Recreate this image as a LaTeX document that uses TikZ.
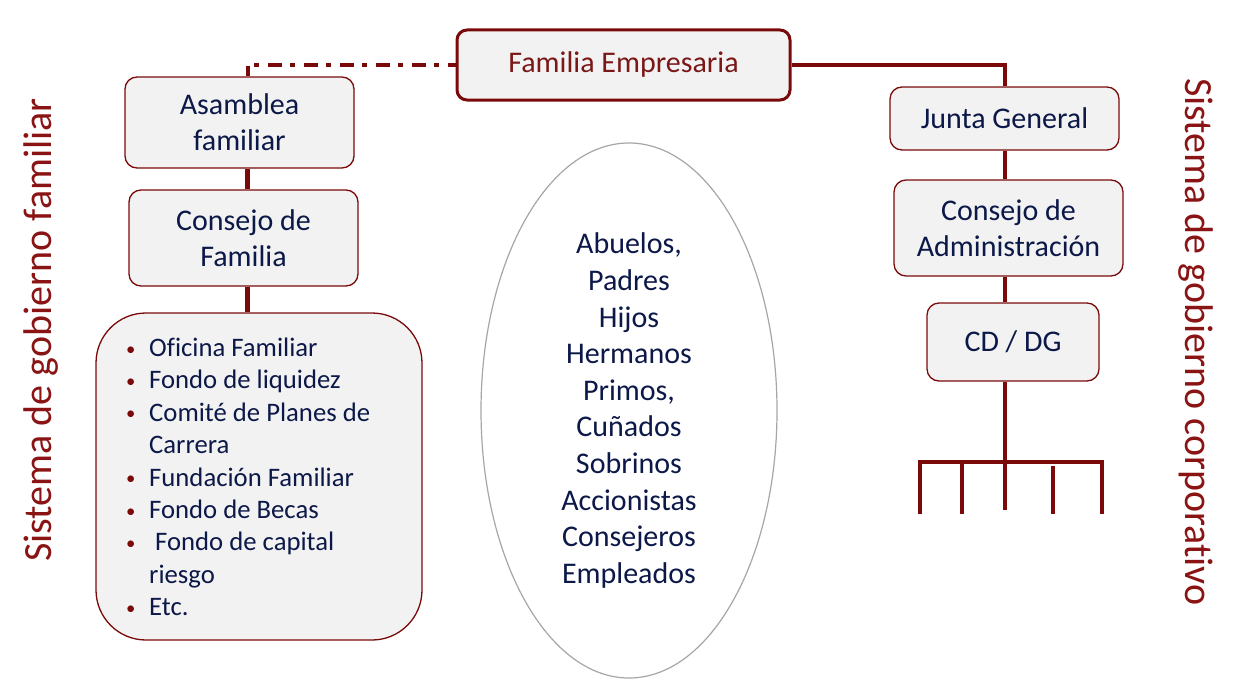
\documentclass[tikz,border=0pt]{standalone}
\usepackage{fontspec}
\setmainfont{Carlito}[Ligatures=NoCommon]
\usetikzlibrary{shapes.geometric,calc}
\definecolor{dred}{HTML}{7A0A0A}
\definecolor{tred}{HTML}{7A1818}
\definecolor{sred}{HTML}{8A1414}
\definecolor{navy}{HTML}{0C1848}
\definecolor{boxfill}{HTML}{F2F2F2}
\definecolor{ellgray}{HTML}{A6A6A6}
\newcommand{\blt}{\makebox[25pt][l]{\hspace*{2pt}\textcolor{dred}{\raisebox{1.5pt}{\scalebox{0.7}{•}}}}}
\begin{document}
\begin{tikzpicture}[x=1pt,y=-1pt,
  box/.style={draw=dred, line width=1.3pt, fill=boxfill, rounded corners=12pt,
    align=center, text=navy, font=\fontsize{30}{36}\selectfont, inner sep=0pt},
  conn/.style={draw=dred, line width=4.5pt},
  brk/.style={draw=dred, line width=4pt},
  dashdotline/.style={draw=dred, line width=4pt, dash pattern=on 14pt off 8pt on 5pt off 9pt, dash phase=4pt},
  sidetext/.style={text=sred, font=\fontsize{40}{48}\selectfont, inner sep=0pt}
]
\useasboundingbox (0,0) rectangle (1236,693);

% nodes
\node[box, minimum width=333pt, minimum height=70pt, line width=3pt, rounded corners=10pt, text=tred] (fe) at (623.5,65) {Familia Empresaria};
\node[box, minimum width=229pt, minimum height=91pt] (af) at (239.5,122.5) {Asamblea\\familiar};
\node[box, minimum width=229pt, minimum height=96pt] (cf) at (243.5,238) {Consejo de\\Familia};
\node[box, minimum width=326pt, minimum height=327pt, rounded corners=50pt] (lst) at (259,476.5) {};
\node[anchor=west, align=left, text=navy, font=\fontsize{26.7}{32.4}\selectfont, inner sep=0pt] (lsttext) at (124,477) {%
\blt Oficina Familiar\\
\blt Fondo de liquidez\\
\blt Comité de Planes de\\
\hspace*{25pt}Carrera\\
\blt Fundación Familiar\\
\blt Fondo de Becas\\
\blt\hspace*{6pt}Fondo de capital\\
\hspace*{25pt}riesgo\\
\blt Etc.};

\node[ellipse, draw=ellgray, line width=1.2pt, fill=white, minimum width=296pt, minimum height=535pt,
  align=center, text=navy, font=\fontsize{30}{36.6}\selectfont, inner sep=0pt] (ell) at (629,410.5)
  {Abuelos,\\Padres\\Hijos\\Hermanos\\Primos,\\Cuñados\\Sobrinos\\Accionistas\\Consejeros\\Empleados};

\node[box, minimum width=229pt, minimum height=63pt] (jg) at (1004.5,118.5) {Junta General};
\node[box, minimum width=229pt, minimum height=96pt] (ca) at (1008.5,228) {Consejo de\\Administración};
\node[box, minimum width=172pt, minimum height=78pt] (cd) at (1013,342) {CD / DG};

\node[sidetext, rotate=90] (sl) at (41,330) {Sistema de gobierno familiar};
\node[sidetext, rotate=-90] (sr) at (1196,342) {Sistema de gobierno corporativo};

% connector coordinates
\coordinate (lx) at (247.5,0);
\coordinate (rx) at (1005,0);
\coordinate (br) at (1005,462);

% left side
\draw[dashdotline] (af.north -| lx) -- (fe.west -| lx) -- (fe.west);
\draw[conn] (af.south -| lx) -- (cf.north -| lx);
\draw[conn] (cf.south -| lx) -- (lst.north -| lx);

% right side
\draw[conn] (fe.east) -- (fe.east -| rx) -- (jg.north -| rx);
\draw[conn] (jg.south -| rx) -- (ca.north -| rx);
\draw[conn] (ca.south -| rx) -- (cd.north -| rx);
\draw[conn] (cd.south -| rx) -- (br);

% fork
\coordinate (bl) at (920,462);
\coordinate (bR) at (1102,462);
\draw[brk] ($(bl)+(0,52)$) -- (bl) -- (bR) -- ($(bR)+(0,52)$);
\draw[brk] (962,462) -- (962,514);
\draw[brk] (br) -- (1005,510);
\draw[brk] (1053,466) -- (1053,514);
\end{tikzpicture}
\end{document}
